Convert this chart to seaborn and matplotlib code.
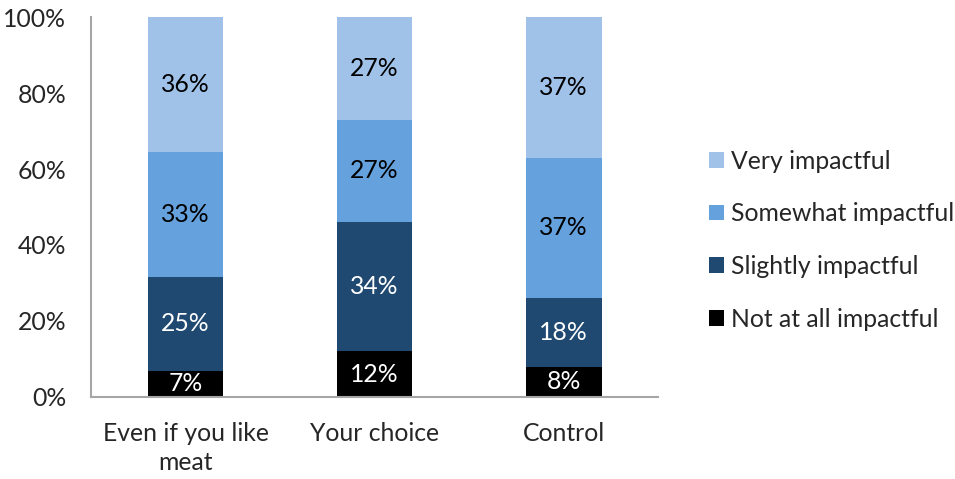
import matplotlib
matplotlib.use("Agg")
import matplotlib.pyplot as plt
import seaborn as sns
import numpy as np
import pandas as pd

categories = ["Even if you like\nmeat", "Your choice", "Control"]
series_names = ["Not at all impactful", "Slightly impactful", "Somewhat impactful", "Very impactful"]
not_at_all = [7, 12, 8]
slightly = [25, 34, 18]
somewhat = [33, 27, 37]
very = [36, 27, 37]
y_ticks = [0, 20, 40, 60, 80, 100]

colors = ["#000000", "#1F4970", "#64A1DD", "#A0C2E9"]
text_colors = ["white", "white", "black", "black"]

sns.set_style("white")
plt.rcParams["font.family"] = ["Lato", "DejaVu Sans"]
FS = 17.8

series = [not_at_all, slightly, somewhat, very]
raw = np.array(series, dtype=float)
totals = raw.sum(axis=0)
norm = raw / totals * 100

fig = plt.figure(figsize=(9.55, 4.79), dpi=100)
ax = fig.add_axes([0.0953, 0.1712, 0.594, 0.7933])

bottom = np.zeros(len(categories))
for i, name in enumerate(series_names):
    df = pd.DataFrame({"cat": categories, "val": norm[i]})
    sns.barplot(data=df, x="cat", y="val", bottom=bottom, color=colors[i],
                width=0.4, ax=ax, label=name, saturation=1, edgecolor="none")
    for j in range(len(categories)):
        ax.text(j, bottom[j] + norm[i][j] / 2, f"{int(raw[i][j])}%",
                ha="center", va="center", color=text_colors[i], fontsize=FS)
    bottom = bottom + norm[i]

ax.set_xlim(-0.5, 2.5)
ax.set_ylim(0, 100)
ax.set_yticks(y_ticks)
ax.set_yticklabels([f"{t}%" for t in y_ticks], fontsize=FS)
ax.tick_params(axis="x", labelsize=FS, length=0, pad=18)
ax.tick_params(axis="y", length=0, pad=18)
for t in ax.get_xticklabels():
    t.set_linespacing(1.3)
ax.set_xlabel("")
ax.set_ylabel("")
for s in ["top", "right"]:
    ax.spines[s].set_visible(False)
for s in ["left", "bottom"]:
    ax.spines[s].set_color("#A6A6A6")
    ax.spines[s].set_linewidth(1.5)

h, l = ax.get_legend_handles_labels()
ax.legend(h[::-1], l[::-1], loc="center left", bbox_to_anchor=(1.05, 0.413),
          frameon=False, fontsize=FS, handlelength=0.6, handleheight=0.6,
          handletextpad=0.3, labelspacing=1.2)

fig.savefig("out.png", dpi=100)
